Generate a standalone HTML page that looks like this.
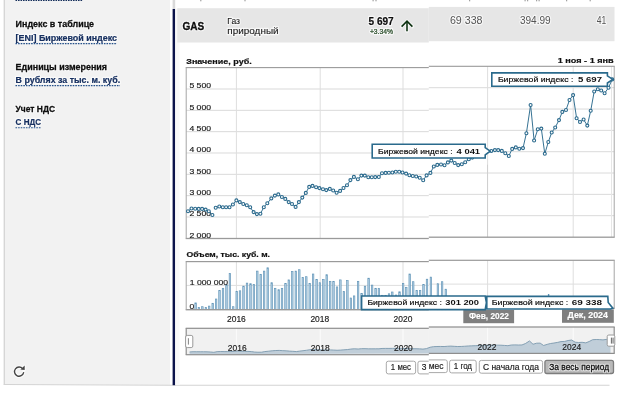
<!DOCTYPE html>
<html lang="ru"><head><meta charset="utf-8"><title>GAS</title>
<style>
html,body{margin:0;padding:0;background:#fff;overflow:hidden}
svg{display:block;position:absolute;left:-4px;top:-4px;will-change:transform;opacity:.999;filter:blur(0.35px)}
text{font-family:"Liberation Sans",sans-serif;white-space:pre}
</style></head><body>
<svg width="632" height="410" viewBox="-4 -4 632 410">
<rect x="-4" y="-4" width="632" height="410" fill="#fff"/>
<polygon points="4,-4 170,-4 170,385 4,384.2" fill="#f2f2f2"/>
<rect x="3.7" y="-4" width="1" height="388.8" fill="#cbcbcb"/>
<polygon points="3.7,383.9 170,384.7 609.5,384.7 609.5,385.7 170,385.7 3.7,384.9" fill="#d3d3d3"/>
<rect x="172.6" y="-4" width="2.6" height="13" fill="#d9d9d9"/>
<rect x="172.6" y="9" width="2.6" height="376.2" fill="#0a1249"/>
<rect x="175.2" y="9" width="4.4" height="376" fill="#f8f8f8"/>
<line x1="15.5" y1="0.45" x2="83" y2="0.45" stroke="#17305c" stroke-width="1.3" stroke-dasharray="1.6 0.9"/>
<text x="15.6" y="26.6" font-size="9.2" font-weight="bold" fill="none" stroke="#fff" stroke-width="2.6" stroke-opacity="0.6" stroke-linejoin="round" text-anchor="start" textLength="78.5" lengthAdjust="spacingAndGlyphs">Индекс в таблице</text>
<text x="15.6" y="26.6" font-size="9.2" font-weight="bold" fill="#0e0e0e" text-anchor="start" textLength="78.5" lengthAdjust="spacingAndGlyphs" stroke="#0e0e0e" stroke-width="0.28">Индекс в таблице</text>
<text x="15.6" y="40.9" font-size="9.2" font-weight="bold" fill="none" stroke="#fff" stroke-width="2.6" stroke-opacity="0.6" stroke-linejoin="round" text-anchor="start" textLength="101.5" lengthAdjust="spacingAndGlyphs">[ENI] Биржевой индекс</text>
<text x="15.6" y="40.9" font-size="9.2" font-weight="bold" fill="#173060" text-anchor="start" textLength="101.5" lengthAdjust="spacingAndGlyphs" stroke="#173060" stroke-width="0.2">[ENI] Биржевой индекс</text>
<line x1="15.5" y1="43.6" x2="117" y2="43.6" stroke="#24508a" stroke-width="1.1" stroke-dasharray="1.6 1"/>
<text x="15.6" y="69.5" font-size="9.2" font-weight="bold" fill="none" stroke="#fff" stroke-width="2.6" stroke-opacity="0.6" stroke-linejoin="round" text-anchor="start" textLength="91.5" lengthAdjust="spacingAndGlyphs">Единицы измерения</text>
<text x="15.6" y="69.5" font-size="9.2" font-weight="bold" fill="#0e0e0e" text-anchor="start" textLength="91.5" lengthAdjust="spacingAndGlyphs" stroke="#0e0e0e" stroke-width="0.28">Единицы измерения</text>
<text x="15.6" y="82.9" font-size="9.2" font-weight="bold" fill="none" stroke="#fff" stroke-width="2.6" stroke-opacity="0.6" stroke-linejoin="round" text-anchor="start" textLength="104.5" lengthAdjust="spacingAndGlyphs">В рублях за тыс. м. куб.</text>
<text x="15.6" y="82.9" font-size="9.2" font-weight="bold" fill="#173060" text-anchor="start" textLength="104.5" lengthAdjust="spacingAndGlyphs" stroke="#173060" stroke-width="0.2">В рублях за тыс. м. куб.</text>
<line x1="15.5" y1="85.6" x2="120" y2="85.6" stroke="#24508a" stroke-width="1.1" stroke-dasharray="1.6 1"/>
<text x="15.6" y="111.7" font-size="9.2" font-weight="bold" fill="none" stroke="#fff" stroke-width="2.6" stroke-opacity="0.6" stroke-linejoin="round" text-anchor="start" textLength="39.5" lengthAdjust="spacingAndGlyphs">Учет НДС</text>
<text x="15.6" y="111.7" font-size="9.2" font-weight="bold" fill="#0e0e0e" text-anchor="start" textLength="39.5" lengthAdjust="spacingAndGlyphs" stroke="#0e0e0e" stroke-width="0.28">Учет НДС</text>
<text x="15.6" y="125.1" font-size="9.2" font-weight="bold" fill="none" stroke="#fff" stroke-width="2.6" stroke-opacity="0.6" stroke-linejoin="round" text-anchor="start" textLength="25.5" lengthAdjust="spacingAndGlyphs">С НДС</text>
<text x="15.6" y="125.1" font-size="9.2" font-weight="bold" fill="#173060" text-anchor="start" textLength="25.5" lengthAdjust="spacingAndGlyphs" stroke="#173060" stroke-width="0.2">С НДС</text>
<line x1="15.5" y1="127.8" x2="41" y2="127.8" stroke="#24508a" stroke-width="1.1" stroke-dasharray="1.6 1"/>
<g fill="none" stroke="#fff" stroke-opacity=".7" stroke-width="3.6" stroke-linecap="round"><path d="M22.6 368.6 A4.6 4.6 0 1 0 23.6 372.6"/><path d="M24.2 366.2 L24.2 369.6"/></g>
<g fill="none" stroke="#444" stroke-width="1.35" stroke-linecap="round"><path d="M22.6 368.6 A4.6 4.6 0 1 0 23.6 372.6"/></g><path d="M24.7 365.6 L24.7 370 L20.4 369.4 Z" fill="#444"/>
<rect x="177.3" y="8.2" width="251.5" height="34.3" fill="#e6e6e6"/>
<rect x="428.8" y="6.9" width="185.7" height="34.3" fill="#e6e6e6"/>
<text x="182.4" y="30" font-size="11" font-weight="bold" fill="none" stroke="#fff" stroke-width="2.6" stroke-opacity="0.65" stroke-linejoin="round" text-anchor="start" textLength="21.8" lengthAdjust="spacingAndGlyphs">GAS</text>
<text x="182.4" y="30" font-size="11" font-weight="bold" fill="#0d0d0d" text-anchor="start" textLength="21.8" lengthAdjust="spacingAndGlyphs" stroke="#0d0d0d" stroke-width="0.3">GAS</text>
<text x="227.3" y="23.6" font-size="9.6" font-weight="normal" fill="none" stroke="#fff" stroke-width="2.6" stroke-opacity="0.65" stroke-linejoin="round" text-anchor="start" textLength="12.7" lengthAdjust="spacingAndGlyphs">Газ</text>
<text x="227.3" y="23.6" font-size="9.6" font-weight="normal" fill="#1c1c1c" text-anchor="start" textLength="12.7" lengthAdjust="spacingAndGlyphs" stroke="#1c1c1c" stroke-width="0.12">Газ</text>
<text x="227.3" y="33.9" font-size="9.6" font-weight="normal" fill="none" stroke="#fff" stroke-width="2.6" stroke-opacity="0.65" stroke-linejoin="round" text-anchor="start" textLength="51.3" lengthAdjust="spacingAndGlyphs">природный</text>
<text x="227.3" y="33.9" font-size="9.6" font-weight="normal" fill="#1c1c1c" text-anchor="start" textLength="51.3" lengthAdjust="spacingAndGlyphs" stroke="#1c1c1c" stroke-width="0.12">природный</text>
<text x="368.5" y="24.9" font-size="10.6" font-weight="bold" fill="none" stroke="#fff" stroke-width="2.6" stroke-opacity="0.65" stroke-linejoin="round" text-anchor="start" textLength="25.2" lengthAdjust="spacingAndGlyphs">5 697</text>
<text x="368.5" y="24.9" font-size="10.6" font-weight="bold" fill="#0d0d0d" text-anchor="start" textLength="25.2" lengthAdjust="spacingAndGlyphs" stroke="#0d0d0d" stroke-width="0.2">5 697</text>
<text x="369.9" y="34.1" font-size="6.6" font-weight="normal" fill="none" stroke="#fff" stroke-width="2.6" stroke-opacity="0.65" stroke-linejoin="round" text-anchor="start" textLength="23.2" lengthAdjust="spacingAndGlyphs">+3.34%</text>
<text x="369.9" y="34.1" font-size="6.6" font-weight="normal" fill="#264a26" text-anchor="start" textLength="23.2" lengthAdjust="spacingAndGlyphs" stroke="#264a26" stroke-width="0.22">+3.34%</text>
<g fill="none" stroke="#fff" stroke-opacity=".6" stroke-width="3.6" stroke-linecap="round" stroke-linejoin="round"><path d="M407 31.3 L407 21.8"/><path d="M401.6 26.6 L407 21.2 L412.4 26.6"/></g>
<g fill="none" stroke="#0a2f0e" stroke-width="1.55" stroke-linecap="butt" stroke-linejoin="miter"><path d="M407 31.3 L407 21.8"/><path d="M401.6 26.6 L407 21.2 L412.4 26.6"/></g>
<text x="449.9" y="24.4" font-size="11.6" font-weight="normal" fill="none" stroke="#fff" stroke-width="2.6" stroke-opacity="0.65" stroke-linejoin="round" text-anchor="start" textLength="32.6" lengthAdjust="spacingAndGlyphs">69 338</text>
<text x="449.9" y="24.4" font-size="11.6" font-weight="normal" fill="#555" text-anchor="start" textLength="32.6" lengthAdjust="spacingAndGlyphs" >69 338</text>
<text x="519.9" y="23.9" font-size="11.6" font-weight="normal" fill="none" stroke="#fff" stroke-width="2.6" stroke-opacity="0.65" stroke-linejoin="round" text-anchor="start" textLength="30.8" lengthAdjust="spacingAndGlyphs">394.99</text>
<text x="519.9" y="23.9" font-size="11.6" font-weight="normal" fill="#555" text-anchor="start" textLength="30.8" lengthAdjust="spacingAndGlyphs" >394.99</text>
<text x="596.8" y="23.9" font-size="11.6" font-weight="normal" fill="none" stroke="#fff" stroke-width="2.6" stroke-opacity="0.65" stroke-linejoin="round" text-anchor="start" textLength="9.5" lengthAdjust="spacingAndGlyphs">41</text>
<text x="596.8" y="23.9" font-size="11.6" font-weight="normal" fill="#555" text-anchor="start" textLength="9.5" lengthAdjust="spacingAndGlyphs" >41</text>
<rect x="200.2" y="-3" width="1.2" height="4.3" fill="#444" opacity=".5"/>
<rect x="244.4" y="-3" width="1.2" height="4.3" fill="#444" opacity=".5"/>
<rect x="372.5" y="-3" width="1.2" height="4.3" fill="#444" opacity=".5"/>
<rect x="375.4" y="-3" width="1.2" height="4.3" fill="#444" opacity=".5"/>
<rect x="469" y="-3" width="1.2" height="4.3" fill="#444" opacity=".5"/>
<rect x="524.5" y="-3" width="1.2" height="4.3" fill="#444" opacity=".5"/>
<rect x="527" y="-3" width="1.2" height="4.3" fill="#444" opacity=".5"/>
<rect x="536" y="-3" width="1.2" height="4.3" fill="#444" opacity=".5"/>
<rect x="538.5" y="-3" width="1.2" height="4.3" fill="#444" opacity=".5"/>
<rect x="566" y="-3" width="1.2" height="4.3" fill="#444" opacity=".5"/>
<rect x="589.6" y="-3" width="1.2" height="4.3" fill="#444" opacity=".5"/>
<text x="186.3" y="64.3" font-size="8" font-weight="bold" fill="#111" text-anchor="start" textLength="65.4" lengthAdjust="spacingAndGlyphs" stroke="#111" stroke-width="0.2">Значение, руб.</text>
<text x="557.7" y="63.2" font-size="8" font-weight="bold" fill="#111" text-anchor="start" textLength="56" lengthAdjust="spacingAndGlyphs" stroke="#111" stroke-width="0.2">1 ноя - 1 янв</text>
<rect x="186.2" y="88.5" width="242.6" height="1" fill="#dadada" />
<rect x="428.8" y="87.2" width="185.4" height="1" fill="#dadada" />
<rect x="186.2" y="109.83" width="242.6" height="1" fill="#dadada" />
<rect x="428.8" y="108.53" width="185.4" height="1" fill="#dadada" />
<rect x="186.2" y="131.16" width="242.6" height="1" fill="#dadada" />
<rect x="428.8" y="129.86" width="185.4" height="1" fill="#dadada" />
<rect x="186.2" y="152.49" width="242.6" height="1" fill="#dadada" />
<rect x="428.8" y="151.19" width="185.4" height="1" fill="#dadada" />
<rect x="186.2" y="173.82" width="242.6" height="1" fill="#dadada" />
<rect x="428.8" y="172.52" width="185.4" height="1" fill="#dadada" />
<rect x="186.2" y="195.15" width="242.6" height="1" fill="#dadada" />
<rect x="428.8" y="193.85" width="185.4" height="1" fill="#dadada" />
<rect x="186.2" y="216.48" width="242.6" height="1" fill="#dadada" />
<rect x="428.8" y="215.18" width="185.4" height="1" fill="#dadada" />
<rect x="235.9" y="67.6" width="1" height="170.9" fill="#dedede"/>
<rect x="319.7" y="67.6" width="1" height="170.9" fill="#dedede"/>
<rect x="402.5" y="67.6" width="1" height="170.9" fill="#dedede"/>
<rect x="487.1" y="66.3" width="1" height="170.9" fill="#dedede"/>
<rect x="572.7" y="66.3" width="1" height="170.9" fill="#dedede"/>
<rect x="487" y="164.7" width="1" height="72.5" fill="#d0d0d0"/>
<rect x="611" y="66.3" width="1" height="170.9" fill="#e6e6e6"/>
<rect x="185.7" y="67.05" width="243.1" height="1.1" fill="#9a9a9a" />
<rect x="428.8" y="65.75" width="185.9" height="1.1" fill="#9a9a9a" />
<rect x="185.7" y="237.85" width="243.1" height="1.3" fill="#9a9a9a" />
<rect x="428.8" y="236.55" width="185.9" height="1.3" fill="#9a9a9a" />
<rect x="185.7" y="67.6" width="1" height="170.9" fill="#a6a6a6"/>
<rect x="613.7" y="66.3" width="1" height="170.9" fill="#a6a6a6"/>
<text x="189.4" y="88.2" font-size="7.8" font-weight="normal" fill="#1a1a1a" text-anchor="start" textLength="21.6" lengthAdjust="spacingAndGlyphs" stroke="#1a1a1a" stroke-width="0.18">5 500</text>
<text x="189.4" y="109.53" font-size="7.8" font-weight="normal" fill="#1a1a1a" text-anchor="start" textLength="21.6" lengthAdjust="spacingAndGlyphs" stroke="#1a1a1a" stroke-width="0.18">5 000</text>
<text x="189.4" y="130.86" font-size="7.8" font-weight="normal" fill="#1a1a1a" text-anchor="start" textLength="21.6" lengthAdjust="spacingAndGlyphs" stroke="#1a1a1a" stroke-width="0.18">4 500</text>
<text x="189.4" y="152.19" font-size="7.8" font-weight="normal" fill="#1a1a1a" text-anchor="start" textLength="21.6" lengthAdjust="spacingAndGlyphs" stroke="#1a1a1a" stroke-width="0.18">4 000</text>
<text x="189.4" y="173.52" font-size="7.8" font-weight="normal" fill="#1a1a1a" text-anchor="start" textLength="21.6" lengthAdjust="spacingAndGlyphs" stroke="#1a1a1a" stroke-width="0.18">3 500</text>
<text x="189.4" y="194.85" font-size="7.8" font-weight="normal" fill="#1a1a1a" text-anchor="start" textLength="21.6" lengthAdjust="spacingAndGlyphs" stroke="#1a1a1a" stroke-width="0.18">3 000</text>
<text x="189.4" y="216.18" font-size="7.8" font-weight="normal" fill="#1a1a1a" text-anchor="start" textLength="21.6" lengthAdjust="spacingAndGlyphs" stroke="#1a1a1a" stroke-width="0.18">2 500</text>
<text x="189.4" y="237.7" font-size="7.8" font-weight="normal" fill="#1a1a1a" text-anchor="start" textLength="21.6" lengthAdjust="spacingAndGlyphs" stroke="#1a1a1a" stroke-width="0.18">2 000</text>
<polyline fill="none" stroke="#2b6a8d" stroke-width="0.95" points="188,211.2 191.5,208.5 195.2,208.8 198.7,208.9 202.1,208.9 205.6,209.6 208.8,211.3 212.4,215"/>
<polyline fill="none" stroke="#2b6a8d" stroke-width="0.95" points="215.7,207.8 219.3,206.5 222.8,207.3 226.1,207.3 229.5,207.2 232.9,204.5 236.4,200.4 239.8,202.1 243.3,204 246.8,205.3 250.2,207.3 253.6,212.1 256.9,214.1 260.4,213.8 263.8,207.2 267.3,203.3 271.3,198.4 274.9,195.6 278.3,194.4 281.9,197 285.3,198.9 288.7,202.1 292,204 295.6,206.9 298.9,202.1 302.3,197.6 305.8,192.9 309.2,186.9 312.5,185.9 316.1,187.3 319.4,188.1 323,189.3 326.3,190.1 329.8,188.9 333.2,190.5 336.6,192.8 340.1,190.9 343.5,188 347,185.3 350.4,180.1 353.9,176.9 357.9,179.2 361.4,175.6 364.8,175.6 368.3,177.2 371.8,177.3 375.2,177.1 378.8,177 382,173.3 385.6,172.9 388.9,172.8 392.4,172.5 395.8,171.7 399.2,171.7 402.5,172.5 406.1,173.6 409.4,175.2 412.8,176 416.2,176.5 419.7,177.8 423.2,180.2 426.6,175.4 430.4,172.9 433.8,166.5 437.3,164.9 441,164.5 444.5,165.3 447.9,162.4 451.3,160.6 454.7,163 458.2,165.1 461.8,164.2 465.2,162.2 468.8,159.2 472.3,157.6 475.8,156.1 479.3,154.6 482.8,153.2 486.3,152 491.3,151 494.9,150.1 498.2,150.1 501.8,150.9 505.3,153.3 508.8,156 512.2,148.9 515.8,147.4 519.3,148.7 523,148.1 526.4,133.2 530.6,105 534.1,140.5 537.8,129.2 541.3,128.6 544.8,153.8 548.3,142 551.7,132.5 555.2,127.5 559,120.1 562.3,111.9 566,110 569.5,100 573.1,95.1 576.6,118.2 580,122 583.6,119.5 587.3,125.6 590.7,110.8 594.2,91.5 597.8,89.2 601.2,90.5 604.6,93.3 608.5,87.7 612.2,79.4"/>
<circle cx="188" cy="211.2" r="1.5" fill="#fff" stroke="#2b6a8d" stroke-width="1.1"/>
<circle cx="191.5" cy="208.5" r="1.5" fill="#fff" stroke="#2b6a8d" stroke-width="1.1"/>
<circle cx="195.2" cy="208.8" r="1.5" fill="#fff" stroke="#2b6a8d" stroke-width="1.1"/>
<circle cx="198.7" cy="208.9" r="1.5" fill="#fff" stroke="#2b6a8d" stroke-width="1.1"/>
<circle cx="202.1" cy="208.9" r="1.5" fill="#fff" stroke="#2b6a8d" stroke-width="1.1"/>
<circle cx="205.6" cy="209.6" r="1.5" fill="#fff" stroke="#2b6a8d" stroke-width="1.1"/>
<circle cx="208.8" cy="211.3" r="1.5" fill="#fff" stroke="#2b6a8d" stroke-width="1.1"/>
<circle cx="212.4" cy="215" r="1.5" fill="#fff" stroke="#2b6a8d" stroke-width="1.1"/>
<circle cx="215.7" cy="207.8" r="1.5" fill="#fff" stroke="#2b6a8d" stroke-width="1.1"/>
<circle cx="219.3" cy="206.5" r="1.5" fill="#fff" stroke="#2b6a8d" stroke-width="1.1"/>
<circle cx="222.8" cy="207.3" r="1.5" fill="#fff" stroke="#2b6a8d" stroke-width="1.1"/>
<circle cx="226.1" cy="207.3" r="1.5" fill="#fff" stroke="#2b6a8d" stroke-width="1.1"/>
<circle cx="229.5" cy="207.2" r="1.5" fill="#fff" stroke="#2b6a8d" stroke-width="1.1"/>
<circle cx="232.9" cy="204.5" r="1.5" fill="#fff" stroke="#2b6a8d" stroke-width="1.1"/>
<circle cx="236.4" cy="200.4" r="1.5" fill="#fff" stroke="#2b6a8d" stroke-width="1.1"/>
<circle cx="239.8" cy="202.1" r="1.5" fill="#fff" stroke="#2b6a8d" stroke-width="1.1"/>
<circle cx="243.3" cy="204" r="1.5" fill="#fff" stroke="#2b6a8d" stroke-width="1.1"/>
<circle cx="246.8" cy="205.3" r="1.5" fill="#fff" stroke="#2b6a8d" stroke-width="1.1"/>
<circle cx="250.2" cy="207.3" r="1.5" fill="#fff" stroke="#2b6a8d" stroke-width="1.1"/>
<circle cx="253.6" cy="212.1" r="1.5" fill="#fff" stroke="#2b6a8d" stroke-width="1.1"/>
<circle cx="256.9" cy="214.1" r="1.5" fill="#fff" stroke="#2b6a8d" stroke-width="1.1"/>
<circle cx="260.4" cy="213.8" r="1.5" fill="#fff" stroke="#2b6a8d" stroke-width="1.1"/>
<circle cx="263.8" cy="207.2" r="1.5" fill="#fff" stroke="#2b6a8d" stroke-width="1.1"/>
<circle cx="267.3" cy="203.3" r="1.5" fill="#fff" stroke="#2b6a8d" stroke-width="1.1"/>
<circle cx="271.3" cy="198.4" r="1.5" fill="#fff" stroke="#2b6a8d" stroke-width="1.1"/>
<circle cx="274.9" cy="195.6" r="1.5" fill="#fff" stroke="#2b6a8d" stroke-width="1.1"/>
<circle cx="278.3" cy="194.4" r="1.5" fill="#fff" stroke="#2b6a8d" stroke-width="1.1"/>
<circle cx="281.9" cy="197" r="1.5" fill="#fff" stroke="#2b6a8d" stroke-width="1.1"/>
<circle cx="285.3" cy="198.9" r="1.5" fill="#fff" stroke="#2b6a8d" stroke-width="1.1"/>
<circle cx="288.7" cy="202.1" r="1.5" fill="#fff" stroke="#2b6a8d" stroke-width="1.1"/>
<circle cx="292" cy="204" r="1.5" fill="#fff" stroke="#2b6a8d" stroke-width="1.1"/>
<circle cx="295.6" cy="206.9" r="1.5" fill="#fff" stroke="#2b6a8d" stroke-width="1.1"/>
<circle cx="298.9" cy="202.1" r="1.5" fill="#fff" stroke="#2b6a8d" stroke-width="1.1"/>
<circle cx="302.3" cy="197.6" r="1.5" fill="#fff" stroke="#2b6a8d" stroke-width="1.1"/>
<circle cx="305.8" cy="192.9" r="1.5" fill="#fff" stroke="#2b6a8d" stroke-width="1.1"/>
<circle cx="309.2" cy="186.9" r="1.5" fill="#fff" stroke="#2b6a8d" stroke-width="1.1"/>
<circle cx="312.5" cy="185.9" r="1.5" fill="#fff" stroke="#2b6a8d" stroke-width="1.1"/>
<circle cx="316.1" cy="187.3" r="1.5" fill="#fff" stroke="#2b6a8d" stroke-width="1.1"/>
<circle cx="319.4" cy="188.1" r="1.5" fill="#fff" stroke="#2b6a8d" stroke-width="1.1"/>
<circle cx="323" cy="189.3" r="1.5" fill="#fff" stroke="#2b6a8d" stroke-width="1.1"/>
<circle cx="326.3" cy="190.1" r="1.5" fill="#fff" stroke="#2b6a8d" stroke-width="1.1"/>
<circle cx="329.8" cy="188.9" r="1.5" fill="#fff" stroke="#2b6a8d" stroke-width="1.1"/>
<circle cx="333.2" cy="190.5" r="1.5" fill="#fff" stroke="#2b6a8d" stroke-width="1.1"/>
<circle cx="336.6" cy="192.8" r="1.5" fill="#fff" stroke="#2b6a8d" stroke-width="1.1"/>
<circle cx="340.1" cy="190.9" r="1.5" fill="#fff" stroke="#2b6a8d" stroke-width="1.1"/>
<circle cx="343.5" cy="188" r="1.5" fill="#fff" stroke="#2b6a8d" stroke-width="1.1"/>
<circle cx="347" cy="185.3" r="1.5" fill="#fff" stroke="#2b6a8d" stroke-width="1.1"/>
<circle cx="350.4" cy="180.1" r="1.5" fill="#fff" stroke="#2b6a8d" stroke-width="1.1"/>
<circle cx="353.9" cy="176.9" r="1.5" fill="#fff" stroke="#2b6a8d" stroke-width="1.1"/>
<circle cx="357.9" cy="179.2" r="1.5" fill="#fff" stroke="#2b6a8d" stroke-width="1.1"/>
<circle cx="361.4" cy="175.6" r="1.5" fill="#fff" stroke="#2b6a8d" stroke-width="1.1"/>
<circle cx="364.8" cy="175.6" r="1.5" fill="#fff" stroke="#2b6a8d" stroke-width="1.1"/>
<circle cx="368.3" cy="177.2" r="1.5" fill="#fff" stroke="#2b6a8d" stroke-width="1.1"/>
<circle cx="371.8" cy="177.3" r="1.5" fill="#fff" stroke="#2b6a8d" stroke-width="1.1"/>
<circle cx="375.2" cy="177.1" r="1.5" fill="#fff" stroke="#2b6a8d" stroke-width="1.1"/>
<circle cx="378.8" cy="177" r="1.5" fill="#fff" stroke="#2b6a8d" stroke-width="1.1"/>
<circle cx="382" cy="173.3" r="1.5" fill="#fff" stroke="#2b6a8d" stroke-width="1.1"/>
<circle cx="385.6" cy="172.9" r="1.5" fill="#fff" stroke="#2b6a8d" stroke-width="1.1"/>
<circle cx="388.9" cy="172.8" r="1.5" fill="#fff" stroke="#2b6a8d" stroke-width="1.1"/>
<circle cx="392.4" cy="172.5" r="1.5" fill="#fff" stroke="#2b6a8d" stroke-width="1.1"/>
<circle cx="395.8" cy="171.7" r="1.5" fill="#fff" stroke="#2b6a8d" stroke-width="1.1"/>
<circle cx="399.2" cy="171.7" r="1.5" fill="#fff" stroke="#2b6a8d" stroke-width="1.1"/>
<circle cx="402.5" cy="172.5" r="1.5" fill="#fff" stroke="#2b6a8d" stroke-width="1.1"/>
<circle cx="406.1" cy="173.6" r="1.5" fill="#fff" stroke="#2b6a8d" stroke-width="1.1"/>
<circle cx="409.4" cy="175.2" r="1.5" fill="#fff" stroke="#2b6a8d" stroke-width="1.1"/>
<circle cx="412.8" cy="176" r="1.5" fill="#fff" stroke="#2b6a8d" stroke-width="1.1"/>
<circle cx="416.2" cy="176.5" r="1.5" fill="#fff" stroke="#2b6a8d" stroke-width="1.1"/>
<circle cx="419.7" cy="177.8" r="1.5" fill="#fff" stroke="#2b6a8d" stroke-width="1.1"/>
<circle cx="423.2" cy="180.2" r="1.5" fill="#fff" stroke="#2b6a8d" stroke-width="1.1"/>
<circle cx="426.6" cy="175.4" r="1.5" fill="#fff" stroke="#2b6a8d" stroke-width="1.1"/>
<circle cx="430.4" cy="172.9" r="1.5" fill="#fff" stroke="#2b6a8d" stroke-width="1.1"/>
<circle cx="433.8" cy="166.5" r="1.5" fill="#fff" stroke="#2b6a8d" stroke-width="1.1"/>
<circle cx="437.3" cy="164.9" r="1.5" fill="#fff" stroke="#2b6a8d" stroke-width="1.1"/>
<circle cx="441" cy="164.5" r="1.5" fill="#fff" stroke="#2b6a8d" stroke-width="1.1"/>
<circle cx="444.5" cy="165.3" r="1.5" fill="#fff" stroke="#2b6a8d" stroke-width="1.1"/>
<circle cx="447.9" cy="162.4" r="1.5" fill="#fff" stroke="#2b6a8d" stroke-width="1.1"/>
<circle cx="451.3" cy="160.6" r="1.5" fill="#fff" stroke="#2b6a8d" stroke-width="1.1"/>
<circle cx="454.7" cy="163" r="1.5" fill="#fff" stroke="#2b6a8d" stroke-width="1.1"/>
<circle cx="458.2" cy="165.1" r="1.5" fill="#fff" stroke="#2b6a8d" stroke-width="1.1"/>
<circle cx="461.8" cy="164.2" r="1.5" fill="#fff" stroke="#2b6a8d" stroke-width="1.1"/>
<circle cx="465.2" cy="162.2" r="1.5" fill="#fff" stroke="#2b6a8d" stroke-width="1.1"/>
<circle cx="468.8" cy="159.2" r="1.5" fill="#fff" stroke="#2b6a8d" stroke-width="1.1"/>
<circle cx="472.3" cy="157.6" r="1.5" fill="#fff" stroke="#2b6a8d" stroke-width="1.1"/>
<circle cx="475.8" cy="156.1" r="1.5" fill="#fff" stroke="#2b6a8d" stroke-width="1.1"/>
<circle cx="479.3" cy="154.6" r="1.5" fill="#fff" stroke="#2b6a8d" stroke-width="1.1"/>
<circle cx="482.8" cy="153.2" r="1.5" fill="#fff" stroke="#2b6a8d" stroke-width="1.1"/>
<circle cx="486.3" cy="152" r="1.5" fill="#fff" stroke="#2b6a8d" stroke-width="1.1"/>
<circle cx="491.3" cy="151" r="1.5" fill="#fff" stroke="#2b6a8d" stroke-width="1.1"/>
<circle cx="494.9" cy="150.1" r="1.5" fill="#fff" stroke="#2b6a8d" stroke-width="1.1"/>
<circle cx="498.2" cy="150.1" r="1.5" fill="#fff" stroke="#2b6a8d" stroke-width="1.1"/>
<circle cx="501.8" cy="150.9" r="1.5" fill="#fff" stroke="#2b6a8d" stroke-width="1.1"/>
<circle cx="505.3" cy="153.3" r="1.5" fill="#fff" stroke="#2b6a8d" stroke-width="1.1"/>
<circle cx="508.8" cy="156" r="1.5" fill="#fff" stroke="#2b6a8d" stroke-width="1.1"/>
<circle cx="512.2" cy="148.9" r="1.5" fill="#fff" stroke="#2b6a8d" stroke-width="1.1"/>
<circle cx="515.8" cy="147.4" r="1.5" fill="#fff" stroke="#2b6a8d" stroke-width="1.1"/>
<circle cx="519.3" cy="148.7" r="1.5" fill="#fff" stroke="#2b6a8d" stroke-width="1.1"/>
<circle cx="523" cy="148.1" r="1.5" fill="#fff" stroke="#2b6a8d" stroke-width="1.1"/>
<circle cx="526.4" cy="133.2" r="1.5" fill="#fff" stroke="#2b6a8d" stroke-width="1.1"/>
<circle cx="530.6" cy="105" r="1.5" fill="#fff" stroke="#2b6a8d" stroke-width="1.1"/>
<circle cx="534.1" cy="140.5" r="1.5" fill="#fff" stroke="#2b6a8d" stroke-width="1.1"/>
<circle cx="537.8" cy="129.2" r="1.5" fill="#fff" stroke="#2b6a8d" stroke-width="1.1"/>
<circle cx="541.3" cy="128.6" r="1.5" fill="#fff" stroke="#2b6a8d" stroke-width="1.1"/>
<circle cx="544.8" cy="153.8" r="1.5" fill="#fff" stroke="#2b6a8d" stroke-width="1.1"/>
<circle cx="548.3" cy="142" r="1.5" fill="#fff" stroke="#2b6a8d" stroke-width="1.1"/>
<circle cx="551.7" cy="132.5" r="1.5" fill="#fff" stroke="#2b6a8d" stroke-width="1.1"/>
<circle cx="555.2" cy="127.5" r="1.5" fill="#fff" stroke="#2b6a8d" stroke-width="1.1"/>
<circle cx="559" cy="120.1" r="1.5" fill="#fff" stroke="#2b6a8d" stroke-width="1.1"/>
<circle cx="562.3" cy="111.9" r="1.5" fill="#fff" stroke="#2b6a8d" stroke-width="1.1"/>
<circle cx="566" cy="110" r="1.5" fill="#fff" stroke="#2b6a8d" stroke-width="1.1"/>
<circle cx="569.5" cy="100" r="1.5" fill="#fff" stroke="#2b6a8d" stroke-width="1.1"/>
<circle cx="573.1" cy="95.1" r="1.5" fill="#fff" stroke="#2b6a8d" stroke-width="1.1"/>
<circle cx="576.6" cy="118.2" r="1.5" fill="#fff" stroke="#2b6a8d" stroke-width="1.1"/>
<circle cx="580" cy="122" r="1.5" fill="#fff" stroke="#2b6a8d" stroke-width="1.1"/>
<circle cx="583.6" cy="119.5" r="1.5" fill="#fff" stroke="#2b6a8d" stroke-width="1.1"/>
<circle cx="587.3" cy="125.6" r="1.5" fill="#fff" stroke="#2b6a8d" stroke-width="1.1"/>
<circle cx="590.7" cy="110.8" r="1.5" fill="#fff" stroke="#2b6a8d" stroke-width="1.1"/>
<circle cx="594.2" cy="91.5" r="1.5" fill="#fff" stroke="#2b6a8d" stroke-width="1.1"/>
<circle cx="597.8" cy="89.2" r="1.5" fill="#fff" stroke="#2b6a8d" stroke-width="1.1"/>
<circle cx="601.2" cy="90.5" r="1.5" fill="#fff" stroke="#2b6a8d" stroke-width="1.1"/>
<circle cx="604.6" cy="93.3" r="1.5" fill="#fff" stroke="#2b6a8d" stroke-width="1.1"/>
<circle cx="608.5" cy="87.7" r="1.5" fill="#fff" stroke="#2b6a8d" stroke-width="1.1"/>
<circle cx="612.2" cy="79.4" r="1.5" fill="#fff" stroke="#2b6a8d" stroke-width="1.1"/>
<path d="M372.2 144.2 L485.2 144.2 L485.2 147.6 L490.2 151.2 L485.2 154.8 L485.2 158 L372.2 158 Z" fill="#fff" stroke="#2a6a8c" stroke-width="1.6" stroke-linejoin="miter"/>
<text x="378.1" y="153.8" font-size="8.1" font-weight="normal" fill="#111" text-anchor="start" textLength="74.5" lengthAdjust="spacingAndGlyphs" stroke="#111" stroke-width="0.22">Биржевой индекс :</text>
<text x="456.6" y="153.8" font-size="8.1" font-weight="bold" fill="#111" text-anchor="start" textLength="23.5" lengthAdjust="spacingAndGlyphs" >4 041</text>
<path d="M491.8 72.9 L607.4 72.9 L607.4 75.8 L612.8 79.4 L607.4 83 L607.4 86.3 L491.8 86.3 Z" fill="#fff" stroke="#2a6a8c" stroke-width="1.6" stroke-linejoin="miter"/>
<text x="497.9" y="82.4" font-size="8.1" font-weight="normal" fill="#111" text-anchor="start" textLength="75.5" lengthAdjust="spacingAndGlyphs" stroke="#111" stroke-width="0.22">Биржевой индекс :</text>
<text x="578" y="82.4" font-size="8.1" font-weight="bold" fill="#111" text-anchor="start" textLength="24" lengthAdjust="spacingAndGlyphs" >5 697</text>
<text x="186.4" y="257" font-size="8" font-weight="bold" fill="#111" text-anchor="start" textLength="83.6" lengthAdjust="spacingAndGlyphs" stroke="#111" stroke-width="0.2">Объем, тыс. куб. м.</text>
<rect x="186.2" y="284.9" width="242.6" height="1" fill="#dedede" />
<rect x="428.8" y="283.6" width="185.4" height="1" fill="#dedede" />
<rect x="235.9" y="261.6" width="1" height="48.1" fill="#dedede"/>
<rect x="319.7" y="261.6" width="1" height="48.1" fill="#dedede"/>
<rect x="402.5" y="261.6" width="1" height="48.1" fill="#dedede"/>
<rect x="487.1" y="260.3" width="1" height="48.1" fill="#dedede"/>
<rect x="572.7" y="260.3" width="1" height="48.1" fill="#dedede"/>
<rect x="194.85" y="302.9" width="1.5" height="6.8" fill="#b4d0e4" stroke="#5f93b6" stroke-width="0.65"/>
<rect x="198.15" y="307.4" width="1.5" height="2.3" fill="#b4d0e4" stroke="#5f93b6" stroke-width="0.65"/>
<rect x="201.65" y="306.7" width="1.5" height="3" fill="#b4d0e4" stroke="#5f93b6" stroke-width="0.65"/>
<rect x="205.15" y="307.4" width="1.5" height="2.3" fill="#b4d0e4" stroke="#5f93b6" stroke-width="0.65"/>
<rect x="208.45" y="306.1" width="1.5" height="3.6" fill="#b4d0e4" stroke="#5f93b6" stroke-width="0.65"/>
<rect x="211.95" y="303.3" width="1.5" height="6.4" fill="#b4d0e4" stroke="#5f93b6" stroke-width="0.65"/>
<rect x="215.35" y="299" width="1.5" height="10.7" fill="#b4d0e4" stroke="#5f93b6" stroke-width="0.65"/>
<rect x="218.75" y="290.6" width="1.5" height="19.1" fill="#b4d0e4" stroke="#5f93b6" stroke-width="0.65"/>
<rect x="222.25" y="288.3" width="1.5" height="21.4" fill="#b4d0e4" stroke="#5f93b6" stroke-width="0.65"/>
<rect x="225.75" y="284.8" width="1.5" height="24.9" fill="#b4d0e4" stroke="#5f93b6" stroke-width="0.65"/>
<rect x="229.15" y="273.4" width="1.5" height="36.3" fill="#b4d0e4" stroke="#5f93b6" stroke-width="0.65"/>
<rect x="232.45" y="306.7" width="1.5" height="3" fill="#b4d0e4" stroke="#5f93b6" stroke-width="0.65"/>
<rect x="235.95" y="291.3" width="1.5" height="18.4" fill="#b4d0e4" stroke="#5f93b6" stroke-width="0.65"/>
<rect x="239.25" y="290.8" width="1.5" height="18.9" fill="#b4d0e4" stroke="#5f93b6" stroke-width="0.65"/>
<rect x="242.75" y="286.2" width="1.5" height="23.5" fill="#b4d0e4" stroke="#5f93b6" stroke-width="0.65"/>
<rect x="246.25" y="283.1" width="1.5" height="26.6" fill="#b4d0e4" stroke="#5f93b6" stroke-width="0.65"/>
<rect x="249.75" y="283.7" width="1.5" height="26" fill="#b4d0e4" stroke="#5f93b6" stroke-width="0.65"/>
<rect x="253.15" y="284.4" width="1.5" height="25.3" fill="#b4d0e4" stroke="#5f93b6" stroke-width="0.65"/>
<rect x="256.55" y="271.1" width="1.5" height="38.6" fill="#b4d0e4" stroke="#5f93b6" stroke-width="0.65"/>
<rect x="259.95" y="274.3" width="1.5" height="35.4" fill="#b4d0e4" stroke="#5f93b6" stroke-width="0.65"/>
<rect x="263.35" y="271.1" width="1.5" height="38.6" fill="#b4d0e4" stroke="#5f93b6" stroke-width="0.65"/>
<rect x="266.95" y="267.8" width="1.5" height="41.9" fill="#b4d0e4" stroke="#5f93b6" stroke-width="0.65"/>
<rect x="270.95" y="282.7" width="1.5" height="27" fill="#b4d0e4" stroke="#5f93b6" stroke-width="0.65"/>
<rect x="274.45" y="288.3" width="1.5" height="21.4" fill="#b4d0e4" stroke="#5f93b6" stroke-width="0.65"/>
<rect x="277.95" y="289.7" width="1.5" height="20" fill="#b4d0e4" stroke="#5f93b6" stroke-width="0.65"/>
<rect x="281.25" y="288.3" width="1.5" height="21.4" fill="#b4d0e4" stroke="#5f93b6" stroke-width="0.65"/>
<rect x="284.75" y="283.4" width="1.5" height="26.3" fill="#b4d0e4" stroke="#5f93b6" stroke-width="0.65"/>
<rect x="288.05" y="279.9" width="1.5" height="29.8" fill="#b4d0e4" stroke="#5f93b6" stroke-width="0.65"/>
<rect x="291.55" y="271.5" width="1.5" height="38.2" fill="#b4d0e4" stroke="#5f93b6" stroke-width="0.65"/>
<rect x="295.05" y="271.1" width="1.5" height="38.6" fill="#b4d0e4" stroke="#5f93b6" stroke-width="0.65"/>
<rect x="298.55" y="269.7" width="1.5" height="40" fill="#b4d0e4" stroke="#5f93b6" stroke-width="0.65"/>
<rect x="302.05" y="277.5" width="1.5" height="32.2" fill="#b4d0e4" stroke="#5f93b6" stroke-width="0.65"/>
<rect x="305.55" y="276.7" width="1.5" height="33" fill="#b4d0e4" stroke="#5f93b6" stroke-width="0.65"/>
<rect x="308.95" y="283.4" width="1.5" height="26.3" fill="#b4d0e4" stroke="#5f93b6" stroke-width="0.65"/>
<rect x="312.35" y="274" width="1.5" height="35.7" fill="#b4d0e4" stroke="#5f93b6" stroke-width="0.65"/>
<rect x="315.85" y="279.5" width="1.5" height="30.2" fill="#b4d0e4" stroke="#5f93b6" stroke-width="0.65"/>
<rect x="319.15" y="282.7" width="1.5" height="27" fill="#b4d0e4" stroke="#5f93b6" stroke-width="0.65"/>
<rect x="322.65" y="279.5" width="1.5" height="30.2" fill="#b4d0e4" stroke="#5f93b6" stroke-width="0.65"/>
<rect x="325.95" y="274.7" width="1.5" height="35" fill="#b4d0e4" stroke="#5f93b6" stroke-width="0.65"/>
<rect x="329.45" y="281.3" width="1.5" height="28.4" fill="#b4d0e4" stroke="#5f93b6" stroke-width="0.65"/>
<rect x="332.75" y="281.3" width="1.5" height="28.4" fill="#b4d0e4" stroke="#5f93b6" stroke-width="0.65"/>
<rect x="336.25" y="286.9" width="1.5" height="22.8" fill="#b4d0e4" stroke="#5f93b6" stroke-width="0.65"/>
<rect x="339.65" y="279.9" width="1.5" height="29.8" fill="#b4d0e4" stroke="#5f93b6" stroke-width="0.65"/>
<rect x="343.15" y="291.5" width="1.5" height="18.2" fill="#b4d0e4" stroke="#5f93b6" stroke-width="0.65"/>
<rect x="346.65" y="280.6" width="1.5" height="29.1" fill="#b4d0e4" stroke="#5f93b6" stroke-width="0.65"/>
<rect x="350.15" y="298" width="1.5" height="11.7" fill="#b4d0e4" stroke="#5f93b6" stroke-width="0.65"/>
<rect x="353.35" y="295.9" width="1.5" height="13.8" fill="#b4d0e4" stroke="#5f93b6" stroke-width="0.65"/>
<rect x="357.35" y="281.3" width="1.5" height="28.4" fill="#b4d0e4" stroke="#5f93b6" stroke-width="0.65"/>
<rect x="360.85" y="293.4" width="1.5" height="16.3" fill="#b4d0e4" stroke="#5f93b6" stroke-width="0.65"/>
<rect x="364.25" y="286.2" width="1.5" height="23.5" fill="#b4d0e4" stroke="#5f93b6" stroke-width="0.65"/>
<rect x="367.85" y="278.2" width="1.5" height="31.5" fill="#b4d0e4" stroke="#5f93b6" stroke-width="0.65"/>
<rect x="371.35" y="285.1" width="1.5" height="24.6" fill="#b4d0e4" stroke="#5f93b6" stroke-width="0.65"/>
<rect x="374.85" y="288.3" width="1.5" height="21.4" fill="#b4d0e4" stroke="#5f93b6" stroke-width="0.65"/>
<rect x="378.15" y="288.3" width="1.5" height="21.4" fill="#b4d0e4" stroke="#5f93b6" stroke-width="0.65"/>
<rect x="381.55" y="295.3" width="1.5" height="14.4" fill="#b4d0e4" stroke="#5f93b6" stroke-width="0.65"/>
<rect x="384.85" y="295.3" width="1.5" height="14.4" fill="#b4d0e4" stroke="#5f93b6" stroke-width="0.65"/>
<rect x="388.25" y="293.8" width="1.5" height="15.9" fill="#b4d0e4" stroke="#5f93b6" stroke-width="0.65"/>
<rect x="391.55" y="292" width="1.5" height="17.7" fill="#b4d0e4" stroke="#5f93b6" stroke-width="0.65"/>
<rect x="395.25" y="295" width="1.5" height="14.7" fill="#b4d0e4" stroke="#5f93b6" stroke-width="0.65"/>
<rect x="398.75" y="291.8" width="1.5" height="17.9" fill="#b4d0e4" stroke="#5f93b6" stroke-width="0.65"/>
<rect x="402.35" y="283.4" width="1.5" height="26.3" fill="#b4d0e4" stroke="#5f93b6" stroke-width="0.65"/>
<rect x="405.55" y="287.3" width="1.5" height="22.4" fill="#b4d0e4" stroke="#5f93b6" stroke-width="0.65"/>
<rect x="408.95" y="274" width="1.5" height="35.7" fill="#b4d0e4" stroke="#5f93b6" stroke-width="0.65"/>
<rect x="412.45" y="281.7" width="1.5" height="28" fill="#b4d0e4" stroke="#5f93b6" stroke-width="0.65"/>
<rect x="415.95" y="290.4" width="1.5" height="19.3" fill="#b4d0e4" stroke="#5f93b6" stroke-width="0.65"/>
<rect x="419.35" y="290.4" width="1.5" height="19.3" fill="#b4d0e4" stroke="#5f93b6" stroke-width="0.65"/>
<rect x="422.75" y="284.4" width="1.5" height="25.3" fill="#b4d0e4" stroke="#5f93b6" stroke-width="0.65"/>
<rect x="426.25" y="279.2" width="1.5" height="30.5" fill="#b4d0e4" stroke="#5f93b6" stroke-width="0.65"/>
<rect x="430.15" y="277.1" width="1.5" height="32.6" fill="#b4d0e4" stroke="#5f93b6" stroke-width="0.65"/>
<rect x="437.15" y="283.7" width="1.5" height="26" fill="#b4d0e4" stroke="#5f93b6" stroke-width="0.65"/>
<rect x="441.35" y="281.7" width="1.5" height="28" fill="#b4d0e4" stroke="#5f93b6" stroke-width="0.65"/>
<rect x="445.05" y="289.2" width="1.5" height="20.5" fill="#b4d0e4" stroke="#5f93b6" stroke-width="0.65"/>
<rect x="547.9" y="294" width="1.4" height="3" fill="#5f93b6"/>
<rect x="185.7" y="261" width="243.1" height="1.2" fill="#9a9a9a" />
<rect x="428.8" y="259.7" width="185.9" height="1.2" fill="#9a9a9a" />
<rect x="185.7" y="309" width="243.1" height="1.4" fill="#9a9a9a" />
<rect x="428.8" y="307.7" width="185.9" height="1.4" fill="#9a9a9a" />
<rect x="185.7" y="261.6" width="1" height="48.1" fill="#a6a6a6"/>
<rect x="613.7" y="260.3" width="1" height="48.1" fill="#a6a6a6"/>
<text x="189.8" y="284.9" font-size="7.7" font-weight="normal" fill="#1a1a1a" text-anchor="start" textLength="38.3" lengthAdjust="spacingAndGlyphs" stroke="#1a1a1a" stroke-width="0.15">1 000 000</text>
<text x="189.4" y="308.8" font-size="7.7" font-weight="normal" fill="#1a1a1a" text-anchor="start" textLength="4.8" lengthAdjust="spacingAndGlyphs" stroke="#1a1a1a" stroke-width="0.15">0</text>
<rect x="463.3" y="310.0" width="50.8" height="13.2" fill="#7f7f7f"/>
<text x="469" y="319.2" font-size="8.4" font-weight="bold" fill="#fff" text-anchor="start" textLength="40" lengthAdjust="spacingAndGlyphs" stroke="#fff" stroke-width="0.15">Фев, 2022</text>
<rect x="562.0" y="309.4" width="51.8" height="13.4" fill="#7f7f7f"/>
<text x="567.5" y="318.4" font-size="8.4" font-weight="bold" fill="#fff" text-anchor="start" textLength="40.5" lengthAdjust="spacingAndGlyphs" stroke="#fff" stroke-width="0.15">Дек, 2024</text>
<path d="M361.6 296.0 L485.2 296.0 L486.4 302.6 L485.2 309.6 L361.6 309.6 Z" fill="#fff" stroke="#2a6a8c" stroke-width="1.6"/>
<text x="367.4" y="304.8" font-size="8.1" font-weight="normal" fill="#111" text-anchor="start" textLength="74.5" lengthAdjust="spacingAndGlyphs" stroke="#111" stroke-width="0.22">Биржевой индекс :</text>
<text x="445.3" y="304.8" font-size="8.1" font-weight="bold" fill="#111" text-anchor="start" textLength="33.7" lengthAdjust="spacingAndGlyphs" >301 200</text>
<path d="M486.8 296.4 L607.8 296.4 L608.2 302.4 L612.8 308.2 L610.5 309.0 L486.8 309.0 Z" fill="#fff" stroke="#2a6a8c" stroke-width="1.6"/>
<text x="491.7" y="304.6" font-size="8.1" font-weight="normal" fill="#111" text-anchor="start" textLength="76.6" lengthAdjust="spacingAndGlyphs" stroke="#111" stroke-width="0.22">Биржевой индекс :</text>
<text x="571.7" y="304.6" font-size="8.1" font-weight="bold" fill="#111" text-anchor="start" textLength="30.3" lengthAdjust="spacingAndGlyphs" >69 338</text>
<text x="236.4" y="321.7" font-size="8.5" font-weight="normal" fill="#1a1a1a" text-anchor="middle" textLength="18.8" lengthAdjust="spacingAndGlyphs" stroke="#1a1a1a" stroke-width="0.15">2016</text>
<text x="319.8" y="321.7" font-size="8.5" font-weight="normal" fill="#1a1a1a" text-anchor="middle" textLength="18.8" lengthAdjust="spacingAndGlyphs" stroke="#1a1a1a" stroke-width="0.15">2018</text>
<text x="403" y="321.7" font-size="8.5" font-weight="normal" fill="#1a1a1a" text-anchor="middle" textLength="18.8" lengthAdjust="spacingAndGlyphs" stroke="#1a1a1a" stroke-width="0.15">2020</text>
<rect x="186.2" y="328.3" width="242.6" height="26.4" fill="#f1f1f1"/>
<rect x="428.8" y="327" width="185.4" height="26.4" fill="#f1f1f1"/>
<rect x="235.8" y="328.3" width="1.2" height="26.4" fill="#fafafa"/>
<rect x="319.6" y="328.3" width="1.2" height="26.4" fill="#fafafa"/>
<rect x="402.4" y="328.3" width="1.2" height="26.4" fill="#fafafa"/>
<rect x="487" y="327" width="1.2" height="26.4" fill="#fafafa"/>
<rect x="572.6" y="327" width="1.2" height="26.4" fill="#fafafa"/>
<polygon points="189.6,354.2 189.6,351.96 193.07,351.71 196.74,351.74 200.22,351.75 203.59,351.75 207.06,351.82 210.24,351.97 213.81,352.31 217.08,351.65 220.66,351.53 224.13,351.6 227.4,351.6 230.78,351.59 234.15,351.34 237.62,350.96 241,351.12 244.47,351.3 247.94,351.42 251.32,351.6 254.69,352.05 257.96,352.23 261.44,352.2 264.81,351.59 268.28,351.23 272.25,350.78 275.82,350.52 279.2,350.41 282.77,350.65 286.14,350.83 289.52,351.12 292.79,351.3 296.36,351.57 299.64,351.12 303.01,350.71 306.48,350.27 309.86,349.72 313.13,349.62 316.7,349.75 319.98,349.83 323.55,349.94 326.82,350.01 330.3,349.9 333.67,350.05 337.04,350.26 340.52,350.09 343.89,349.82 347.36,349.57 350.74,349.09 354.21,348.79 358.18,349 361.65,348.67 365.02,348.67 368.5,348.82 371.97,348.83 375.34,348.81 378.92,348.8 382.09,348.46 385.66,348.42 388.94,348.41 392.41,348.38 395.78,348.31 399.16,348.31 402.43,348.38 406,348.49 409.28,348.63 412.65,348.71 416.02,348.75 419.5,348.87 422.97,349.1 426.34,348.65 430.11,347.24 433.49,346.65 436.96,346.5 440.63,346.46 444.1,346.54 447.48,346.27 450.85,346.1 454.23,346.33 457.7,346.52 461.27,346.44 464.64,346.25 468.22,345.97 471.69,345.83 475.16,345.69 478.63,345.55 482.11,345.42 485.58,345.31 490.54,345.22 494.11,345.13 497.39,345.13 500.96,345.21 504.43,345.43 507.9,345.68 511.28,345.02 514.85,344.88 518.32,345 521.99,344.95 525.37,343.57 529.53,340.96 533.01,344.24 536.68,343.2 540.15,343.14 543.62,345.47 547.1,344.38 550.47,343.5 553.94,343.04 557.71,342.36 560.99,341.6 564.66,341.42 568.13,340.5 571.7,340.04 575.18,342.18 578.55,342.53 582.12,342.3 585.79,342.87 589.17,341.5 592.64,339.71 596.21,339.5 599.59,339.62 602.96,339.88 606.83,339.36 610.5,338.59 610.5,352.9" fill="#c0ced9"/>
<polyline points="189.6,351.96 193.07,351.71 196.74,351.74 200.22,351.75 203.59,351.75 207.06,351.82 210.24,351.97 213.81,352.31 217.08,351.65 220.66,351.53 224.13,351.6 227.4,351.6 230.78,351.59 234.15,351.34 237.62,350.96 241,351.12 244.47,351.3 247.94,351.42 251.32,351.6 254.69,352.05 257.96,352.23 261.44,352.2 264.81,351.59 268.28,351.23 272.25,350.78 275.82,350.52 279.2,350.41 282.77,350.65 286.14,350.83 289.52,351.12 292.79,351.3 296.36,351.57 299.64,351.12 303.01,350.71 306.48,350.27 309.86,349.72 313.13,349.62 316.7,349.75 319.98,349.83 323.55,349.94 326.82,350.01 330.3,349.9 333.67,350.05 337.04,350.26 340.52,350.09 343.89,349.82 347.36,349.57 350.74,349.09 354.21,348.79 358.18,349 361.65,348.67 365.02,348.67 368.5,348.82 371.97,348.83 375.34,348.81 378.92,348.8 382.09,348.46 385.66,348.42 388.94,348.41 392.41,348.38 395.78,348.31 399.16,348.31 402.43,348.38 406,348.49 409.28,348.63 412.65,348.71 416.02,348.75 419.5,348.87 422.97,349.1 426.34,348.65 430.11,347.24 433.49,346.65 436.96,346.5 440.63,346.46 444.1,346.54 447.48,346.27 450.85,346.1 454.23,346.33 457.7,346.52 461.27,346.44 464.64,346.25 468.22,345.97 471.69,345.83 475.16,345.69 478.63,345.55 482.11,345.42 485.58,345.31 490.54,345.22 494.11,345.13 497.39,345.13 500.96,345.21 504.43,345.43 507.9,345.68 511.28,345.02 514.85,344.88 518.32,345 521.99,344.95 525.37,343.57 529.53,340.96 533.01,344.24 536.68,343.2 540.15,343.14 543.62,345.47 547.1,344.38 550.47,343.5 553.94,343.04 557.71,342.36 560.99,341.6 564.66,341.42 568.13,340.5 571.7,340.04 575.18,342.18 578.55,342.53 582.12,342.3 585.79,342.87 589.17,341.5 592.64,339.71 596.21,339.5 599.59,339.62 602.96,339.88 606.83,339.36 610.5,338.59" fill="none" stroke="#7b98ae" stroke-width="0.9"/>
<text x="237.2" y="350.9" font-size="8.5" font-weight="normal" fill="#1a1a1a" text-anchor="middle" textLength="18.8" lengthAdjust="spacingAndGlyphs" stroke="#1a1a1a" stroke-width="0.15">2016</text>
<text x="320.2" y="350.9" font-size="8.5" font-weight="normal" fill="#1a1a1a" text-anchor="middle" textLength="18.8" lengthAdjust="spacingAndGlyphs" stroke="#1a1a1a" stroke-width="0.15">2018</text>
<text x="403.4" y="350.9" font-size="8.5" font-weight="normal" fill="#1a1a1a" text-anchor="middle" textLength="18.8" lengthAdjust="spacingAndGlyphs" stroke="#1a1a1a" stroke-width="0.15">2020</text>
<text x="487" y="349.6" font-size="8.5" font-weight="normal" fill="#1a1a1a" text-anchor="middle" textLength="18.8" lengthAdjust="spacingAndGlyphs" stroke="#1a1a1a" stroke-width="0.15">2022</text>
<text x="571.7" y="349.6" font-size="8.5" font-weight="normal" fill="#1a1a1a" text-anchor="middle" textLength="18.8" lengthAdjust="spacingAndGlyphs" stroke="#1a1a1a" stroke-width="0.15">2024</text>
<rect x="185.7" y="327.7" width="243.1" height="1.2" fill="#8e8e8e" />
<rect x="428.8" y="326.4" width="185.9" height="1.2" fill="#8e8e8e" />
<rect x="185.7" y="354.1" width="243.1" height="1.2" fill="#8e8e8e" />
<rect x="428.8" y="352.8" width="185.9" height="1.2" fill="#8e8e8e" />
<rect x="185.6" y="328.3" width="1.2" height="26.4" fill="#8e8e8e"/>
<rect x="613.6" y="327" width="1.2" height="26.4" fill="#8e8e8e"/>
<rect x="185.6" y="335.4" width="7.2" height="12.2" rx="1.6" fill="#fff" stroke="#9a9a9a" stroke-width="1"/>
<rect x="187.9" y="338.2" width="0.9" height="6.4" fill="#777"/>
<rect x="607.2" y="335" width="7.6" height="11.2" rx="1.6" fill="#fff" stroke="#9a9a9a" stroke-width="1"/>
<rect x="610.9" y="337.6" width="0.9" height="6" fill="#555"/><rect x="612.6" y="337.6" width="0.9" height="6" fill="#555"/>
<rect x="386.3" y="361.2" width="29.3" height="12.7" rx="2" fill="#fff" stroke="#a9a9a9" stroke-width="1"/>
<text x="400.95" y="370.4" font-size="9.6" font-weight="normal" fill="#1a1a1a" text-anchor="middle" textLength="20.2" lengthAdjust="spacingAndGlyphs" stroke="#1a1a1a" stroke-width="0.18">1 мес</text>
<clipPath id="cl417"><rect x="0" y="0" width="428.8" height="402"/></clipPath>
<clipPath id="cr417"><rect x="428.8" y="0" width="300" height="402"/></clipPath>
<g clip-path="url(#cl417)"><rect x="417.9" y="361.2" width="29.4" height="12.7" rx="2" fill="#fff" stroke="#a9a9a9" stroke-width="1"/>
<text x="432.6" y="370.4" font-size="9.6" font-weight="normal" fill="#1a1a1a" text-anchor="middle" textLength="21.8" lengthAdjust="spacingAndGlyphs" stroke="#1a1a1a" stroke-width="0.18">3 мес</text>
</g>
<g clip-path="url(#cr417)"><rect x="417.9" y="359.9" width="29.4" height="12.7" rx="2" fill="#fff" stroke="#a9a9a9" stroke-width="1"/>
<text x="432.6" y="369.1" font-size="9.6" font-weight="normal" fill="#1a1a1a" text-anchor="middle" textLength="21.8" lengthAdjust="spacingAndGlyphs" stroke="#1a1a1a" stroke-width="0.18">3 мес</text>
</g>
<rect x="449.6" y="360.2" width="26.6" height="12.7" rx="2" fill="#fff" stroke="#a9a9a9" stroke-width="1"/>
<text x="462.9" y="369.4" font-size="9.6" font-weight="normal" fill="#1a1a1a" text-anchor="middle" textLength="18.2" lengthAdjust="spacingAndGlyphs" stroke="#1a1a1a" stroke-width="0.18">1 год</text>
<rect x="479.3" y="360.4" width="63.3" height="12.8" rx="2" fill="#fff" stroke="#a9a9a9" stroke-width="1"/>
<text x="510.95" y="369.7" font-size="9.6" font-weight="normal" fill="#1a1a1a" text-anchor="middle" textLength="56" lengthAdjust="spacingAndGlyphs" stroke="#1a1a1a" stroke-width="0.18">С начала года</text>
<rect x="544.9" y="360.4" width="68.6" height="13.1" rx="2" fill="#b9b9b9" stroke="#7d7d7d" stroke-width="1.3"/>
<text x="579.2" y="370" font-size="9.6" font-weight="normal" fill="none" stroke="#fff" stroke-width="2.6" stroke-opacity="0.55" stroke-linejoin="round" text-anchor="middle" textLength="60" lengthAdjust="spacingAndGlyphs">За весь период</text>
<text x="579.2" y="370" font-size="9.6" font-weight="normal" fill="#0c0c0c" text-anchor="middle" textLength="60" lengthAdjust="spacingAndGlyphs" stroke="#111" stroke-width="0.3">За весь период</text>
</svg>
</body></html>
